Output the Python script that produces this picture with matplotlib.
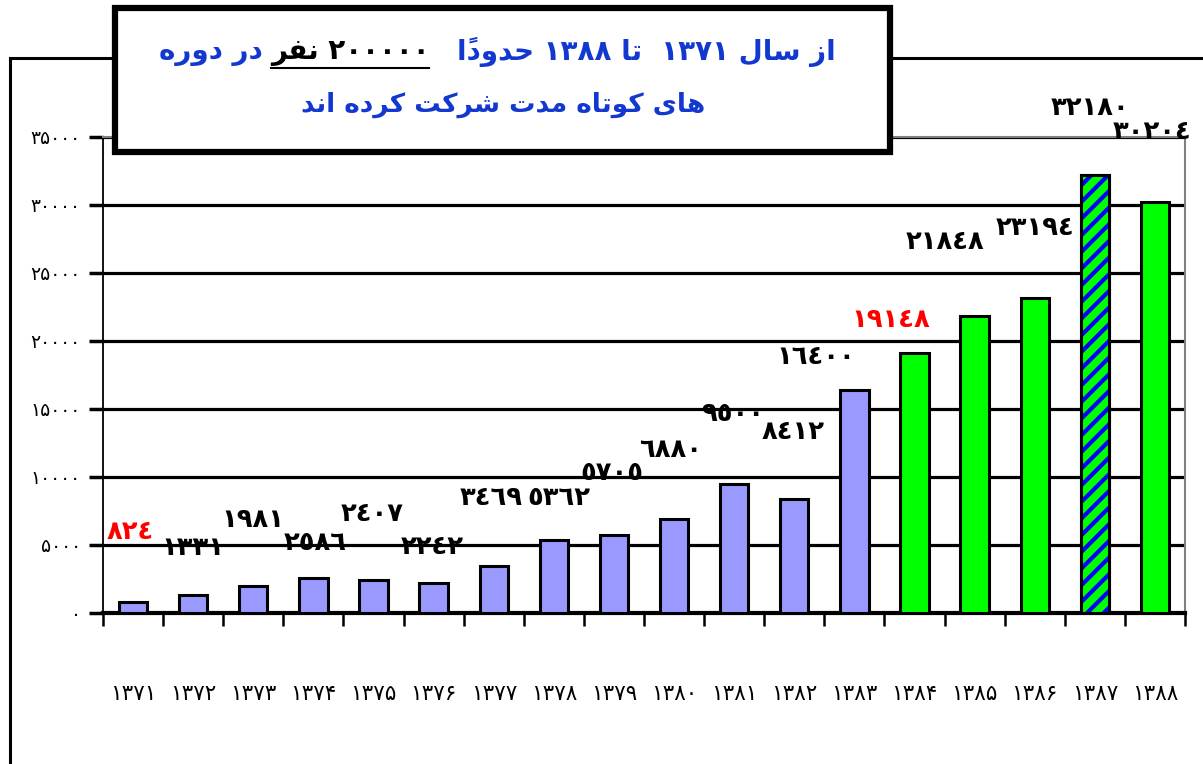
import matplotlib
matplotlib.use('Agg')
import matplotlib.pyplot as plt
from matplotlib.patches import Rectangle
from matplotlib.lines import Line2D

# ---- data ----
years = ['۱۳۷۱', '۱۳۷۲', '۱۳۷۳', '۱۳۷۴', '۱۳۷۵', '۱۳۷۶', '۱۳۷۷', '۱۳۷۸', '۱۳۷۹',
         '۱۳۸۰', '۱۳۸۱', '۱۳۸۲', '۱۳۸۳', '۱۳۸۴', '۱۳۸۵', '۱۳۸۶', '۱۳۸۷', '۱۳۸۸']
members = [824, 1331, 1981, 2586, 2407, 2242, 3469, 5362, 5705,
           6880, 9500, 8412, 16400, 19148, 21848, 23194, 32180, 30204]
y_ticks = [0, 5000, 10000, 15000, 20000, 25000, 30000, 35000]

title_right = 'از سال ۱۳۷۱  تا ۱۳۸۸ حدوداً'
title_mid = '۲۰۰۰۰۰ نفر'
title_left = 'در دوره'
title_line2 = 'های کوتاه مدت شرکت کرده اند'

# hand placed value labels: x position (in bars) and height (in data units)
label_x = [-0.05, 1.0, 2.0, 3.03, 3.98, 4.98, 5.96, 7.08, 7.97,
           8.95, 9.97, 10.98, 11.35, 12.6, 13.5, 15.0, 15.92, 16.95]
label_y = [5950, 4800, 6850, 5150, 7300, 4850, 8450, 8450, 10300,
           11950, 14600, 13300, 18850, 21550, 27300, 28300, 37150, 35400]

# ---- minimal arabic shaping (matplotlib does no rtl layout) ----
FORMS = {  # isolated, final, initial, medial
    '\u0627': ('\uFE8D', '\uFE8E'),
    '\u062F': ('\uFEA9', '\uFEAA'),
    '\u0631': ('\uFEAD', '\uFEAE'),
    '\u0632': ('\uFEAF', '\uFEB0'),
    '\u0648': ('\uFEED', '\uFEEE'),
    '\u062A': ('\uFE95', '\uFE96', '\uFE97', '\uFE98'),
    '\u062D': ('\uFEA1', '\uFEA2', '\uFEA3', '\uFEA4'),
    '\u0633': ('\uFEB1', '\uFEB2', '\uFEB3', '\uFEB4'),
    '\u0634': ('\uFEB5', '\uFEB6', '\uFEB7', '\uFEB8'),
    '\u0641': ('\uFED1', '\uFED2', '\uFED3', '\uFED4'),
    '\u0644': ('\uFEDD', '\uFEDE', '\uFEDF', '\uFEE0'),
    '\u0645': ('\uFEE1', '\uFEE2', '\uFEE3', '\uFEE4'),
    '\u0646': ('\uFEE5', '\uFEE6', '\uFEE7', '\uFEE8'),
    '\u0647': ('\uFEE9', '\uFEEA', '\uFEEB', '\uFEEC'),
    '\u06A9': ('\uFB8E', '\uFB8F', '\uFB90', '\uFB91'),
    '\u06CC': ('\uFBFC', '\uFBFD', '\uFBFE', '\uFBFF'),
}
PERSIAN_DIGITS = '۰۱۲۳۴۵۶۷۸۹'


def shape_word(word):
    chars = list(word)
    idx = [i for i, c in enumerate(chars) if c in FORMS]
    for k, i in enumerate(idx):
        f = FORMS[chars[i]]
        jp = k > 0 and len(FORMS[word[idx[k - 1]]]) == 4
        jn = k + 1 < len(idx) and len(f) == 4
        chars[i] = f[3] if (jp and jn) else f[1] if jp else f[2] if jn else f[0]
    clusters = []
    for c in chars:
        if c == '\u064B' and clusters:
            clusters[-1] += c
        else:
            clusters.append(c)
    return ''.join(reversed(clusters))


def rtl(line):
    words = []
    for w in line.split(' '):
        if w and all(c in PERSIAN_DIGITS for c in w):
            words.append(w)
        else:
            words.append(shape_word(w))
    return ' '.join(reversed(words))


def fa(n):
    return str(n).translate(str.maketrans('0123456789', PERSIAN_DIGITS))


def ar(n):
    return str(n).translate(str.maketrans('0123456789', '٠١٢٣٤٥٦٧٨٩'))


plt.rcParams['font.family'] = ['DejaVu Sans']
plt.rcParams['hatch.linewidth'] = 3.0

W, H = 1203, 764
fig = plt.figure(figsize=(W / 100, H / 100), dpi=100)
ax = fig.add_axes([103 / W, 1 - 613 / H, (1185 - 103) / W, (613 - 137) / H])

x = list(range(len(years)))
colors = ['#9999FF'] * 13 + ['#00FF00'] * 5
ax.bar(x, members, width=0.47, color=colors, edgecolor='black', linewidth=2.2, zorder=3)
# hatched 1387 bar
ax.bar([16], [members[16]], width=0.47, color='#00FF00', edgecolor='#0000FF',
       hatch='//', linewidth=0, zorder=3)
ax.bar([16], [members[16]], width=0.47, fill=False, edgecolor='black',
       linewidth=2.2, zorder=4)

for i, v in enumerate(members):
    c = 'red' if i in (0, 13) else 'black'
    ax.text(label_x[i], label_y[i], ar(v), ha='center', va='center', fontsize=18.5,
            fontweight='bold', color=c, zorder=6, clip_on=False)

ax.set_xlim(-0.5, len(years) - 0.5)
ax.set_ylim(0, 35000)
ax.set_yticks(y_ticks)
ax.set_yticklabels([fa(t) for t in y_ticks], fontsize=13.5)
ax.tick_params(axis='y', length=10, width=2.5, pad=6)

ax.set_xticks(x)
ax.set_xticklabels(years, fontsize=15.5)
ax.tick_params(axis='x', which='major', length=0, pad=51)
ax.set_xticks([i + 0.5 for i in range(-1, len(years))], minor=True)
ax.tick_params(axis='x', which='minor', length=9, width=1.8, direction='out')

ax.yaxis.grid(True, color='black', linewidth=2.3, zorder=1)
ax.set_axisbelow(True)
ax.spines['left'].set_linewidth(1.3)
ax.spines['bottom'].set_linewidth(3)
for s in ('top', 'right'):
    ax.spines[s].set_color('#808080')
    ax.spines[s].set_linewidth(1.5)

# outer frame
fig.add_artist(Line2D([10 / W, 10 / W], [0, 1 - 58 / H], color='black', lw=2.2))
fig.add_artist(Line2D([10 / W, 1], [1 - 58 / H, 1 - 58 / H], color='black', lw=2.2))

# title box
fig.add_artist(Rectangle((115 / W, 1 - 152 / H), (890 - 115) / W, (152 - 8) / H,
                         transform=fig.transFigure, facecolor='white',
                         edgecolor='black', lw=4.5, zorder=10))
blue = '#1238D0'
tfont = dict(fontsize=20, fontweight='bold', zorder=11)
mid = fig.text(350 / W, 1 - 52 / H, rtl(title_mid), ha='center', va='center',
               color='black', **tfont)
fig.canvas.draw()
r = fig.canvas.get_renderer()
bb = mid.get_window_extent(r).transformed(fig.transFigure.inverted())
ymid = (bb.y0 + bb.y1) / 2
fig.text(bb.x0 - 8 / W, ymid, rtl(title_left), ha='right', va='center',
         color=blue, **tfont)
fig.text(bb.x1 + 28 / W, ymid, rtl(title_right), ha='left', va='center',
         color=blue, **tfont)
fig.add_artist(Line2D([bb.x0, bb.x1], [bb.y0 - 2 / H, bb.y0 - 2 / H], color='black',
                      lw=1.5, zorder=11))
fig.text(503 / W, 1 - 105 / H, rtl(title_line2), ha='center', va='center',
         color=blue, fontsize=19, fontweight='bold', zorder=11)

fig.savefig('out.png', dpi=100)
